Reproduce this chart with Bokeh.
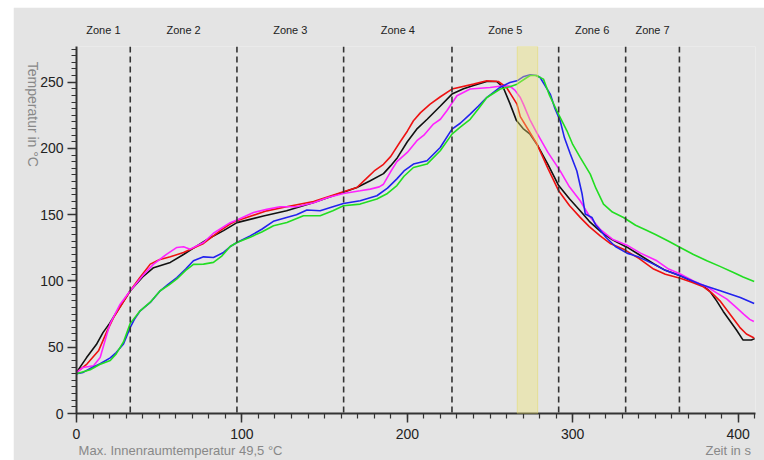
import math
from bokeh.plotting import figure
from bokeh.models import (Range1d, Span, BoxAnnotation, LinearAxis, FixedTicker,
                          SingleIntervalTicker, Spacer)
from bokeh.layouts import row, column
from bokeh.embed import file_html
from bokeh.resources import INLINE

# ---------------- data ----------------
black_x = [0, 6, 12, 16, 20, 26, 32.5, 40, 46.6, 56.7, 64.7, 72.8, 80, 88.9, 97, 113, 127, 143, 161.4, 169.5, 177.6, 185.6, 190, 194, 200, 206, 212, 220, 227, 234, 240, 248, 254, 258, 262, 266, 270, 274, 278.4, 285, 291.5, 298, 304.5, 310, 316.6, 324, 332.8, 340, 348.9, 356, 365, 372, 379, 383, 387, 391, 395, 399, 403, 408, 410]
black_y = [31, 42, 52, 61, 68, 80, 92.6, 103, 110, 114, 120, 126.5, 132, 138, 144, 149, 153, 159, 167, 170.5, 175.6, 181, 187, 193, 205, 215, 222, 232, 241, 245, 247.5, 250.5, 250.5, 246, 234, 221, 215, 211, 203, 188, 172, 162, 153, 145, 137.5, 131, 125.5, 120, 113, 108, 104, 100, 96.4, 92, 85, 77, 70, 63, 55.4, 55.4, 56.5]

red_x = [0, 6.3, 13.3, 18.4, 22.4, 32.5, 38, 44.6, 50, 56.7, 64.7, 76.8, 86.9, 92.9, 97, 115, 127, 143.3, 161.4, 169.5, 175, 180, 185.6, 190, 195.7, 200, 203.7, 208, 213.8, 220, 227, 240, 248, 255, 260, 263, 266.3, 268.3, 272.3, 278.4, 285, 291.5, 298, 304.5, 310, 316.6, 323, 330.7, 340, 348.9, 356, 365, 372, 379, 384, 389, 395, 401, 405, 409.7]
red_y = [31, 37.3, 47.3, 62, 72.4, 92.6, 102, 112.7, 116, 118.2, 121.5, 128.3, 138, 143, 145.5, 152.9, 156, 160, 167.3, 170.5, 177, 183, 188, 194, 205, 213, 220.9, 227, 233.4, 239, 244.8, 248.5, 251, 250.5, 246, 240, 233.4, 224, 215.8, 203.3, 185, 168, 157, 148, 141, 134, 128, 124, 117, 109, 105, 102, 99, 95.6, 91, 85, 75, 65, 60, 57]

magenta_x = [0, 4, 10.3, 14.3, 18.4, 20.4, 26.4, 32.5, 40, 46.6, 54.6, 60.7, 64.7, 68.7, 76.8, 82.8, 92.9, 97, 107, 115, 123, 133, 143.3, 152, 161.4, 171.5, 177.6, 183, 185.6, 189.7, 193.7, 200, 205.8, 210, 215.8, 220, 223.9, 230, 238, 250, 258, 262, 265, 268.3, 270.3, 274, 278.4, 285, 292.4, 298, 304.5, 310, 316.6, 324, 332.8, 341, 350.9, 358, 365, 373, 381.1, 387, 393.2, 398, 403.3, 407, 409.5]
magenta_y = [31, 34.7, 36, 42.3, 60, 68, 82.5, 92.6, 104, 112.7, 120.3, 125.3, 125.8, 124, 129, 136, 144, 146, 151.7, 154, 156, 156, 159, 163, 166, 168, 169.3, 171, 173, 182, 190, 197, 205.8, 210, 218.4, 222, 228.4, 239.7, 244.8, 246, 247.3, 247, 244, 238.4, 233, 222, 211.5, 197, 183.1, 171, 160.5, 149, 139, 131.5, 127, 121, 115.2, 109, 105.2, 100, 95.6, 91, 86.3, 81, 75, 71, 69.4]

blue_x = [0, 4, 8.3, 14.3, 20.4, 24, 28.4, 32.5, 35, 38.5, 44.6, 50.6, 55, 60.7, 66, 70.7, 76.8, 82.8, 88.9, 93, 97, 105, 112, 119, 127, 133, 139.3, 147.3, 155, 161.4, 171.5, 181.6, 188, 193.7, 198, 203.7, 211.9, 219.9, 227, 232, 238, 243, 248, 256, 262, 266.3, 270, 274.3, 278, 280.3, 283, 286.4, 289, 292.4, 295, 298.5, 302.5, 305.6, 307.6, 311.6, 314, 316.6, 320, 325.8, 332.8, 340, 348.9, 356, 365, 377.1, 389.2, 401.3, 409.7]
blue_y = [30, 31, 34, 37.5, 42, 46, 52.4, 65, 71, 77.5, 83.8, 92.6, 97, 102.6, 109, 115.2, 118.2, 117.7, 121.5, 126, 129, 134, 139, 145, 147.9, 150, 153.5, 153, 156, 158.5, 160.5, 164.3, 170, 177, 183, 188.2, 190.7, 200.7, 214.6, 219, 225.9, 232, 238.4, 246, 249.8, 251, 254, 255.6, 255, 253.5, 248, 241, 231, 221, 208, 196, 183, 166, 150.5, 147.9, 142, 138.5, 133, 126, 121, 118, 112.7, 108, 103.9, 97.6, 92.6, 87.5, 83]

green_x = [0, 8.3, 14, 20.4, 24, 28.4, 32.5, 38.5, 44.6, 50.6, 56, 60.7, 66, 70.7, 76.8, 82.8, 88, 92.9, 97, 105, 112, 119.1, 127.2, 137.2, 147.3, 155, 161.4, 171.5, 181.6, 188, 193.7, 198, 203.7, 211.9, 219.9, 227, 232, 238, 243, 248.1, 256.2, 262, 266.3, 272.3, 274.3, 278, 282.3, 286, 290.4, 296.5, 300, 304.5, 310.6, 314, 318.6, 324, 330.7, 338, 344.9, 350, 358, 365, 373, 381.1, 389, 397.2, 403, 409.7]
green_y = [30, 33, 37, 40, 45, 54, 68, 77.5, 84, 92.6, 97, 101.5, 108, 112.5, 112.7, 114, 119, 126, 129, 133, 137, 141.6, 144.1, 149.2, 149.2, 153, 156.7, 158, 161.8, 166, 172, 179, 185.6, 188.2, 198.2, 210.8, 216, 222, 230, 238.4, 244.8, 246.5, 248.5, 253.5, 255, 255, 252.3, 240, 228.4, 213.3, 203, 193.2, 180.6, 170, 158, 152, 147.9, 142, 138, 135, 130, 125.3, 120, 115.2, 111, 106.4, 103, 99.6]

zone_bounds = [32.5, 97, 161.5, 227, 291.5, 332, 364.5]
zone_names = ["Zone 1", "Zone 2", "Zone 3", "Zone 4", "Zone 5", "Zone 6", "Zone 7"]
band_start, band_end = 266.5, 278.8

x_max, y_max = 410.5, 276.9

y_title = "Temperatur in °C"
y_title_end = 186.0
x_notes = ["Max. Innenraumtemperatur  49,5 °C", "Zeit in s"]
x_notes_at = [64.0, 394.0]

series = [
    (black_x, black_y, "#111111"),
    (red_x, red_y, "#ee1111"),
    (magenta_x, magenta_y, "#ff22ff"),
    (blue_x, blue_y, "#2222ee"),
    (green_x, green_y, "#22dd22"),
]

GREY = "#e4e4e4"
LEFT = 13
p = figure(width=764 - LEFT, height=453, output_backend="svg", toolbar_location=None,
           x_range=Range1d(0, x_max), y_range=Range1d(0, y_max),
           min_border_left=53, min_border_right=9, min_border_top=39, min_border_bottom=47,
           background_fill_color=GREY, border_fill_color=GREY)
p.outline_line_color = None
p.xgrid.visible = False
p.ygrid.visible = False

p.xaxis.ticker = SingleIntervalTicker(interval=100, num_minor_ticks=10)
p.yaxis.ticker = SingleIntervalTicker(interval=50, num_minor_ticks=10)
for ax in (p.xaxis[0], p.yaxis[0]):
    ax.axis_line_color = "#333333"
    ax.axis_line_width = 2
    ax.major_tick_line_color = "#333333"
    ax.major_tick_line_width = 1.5
    ax.minor_tick_line_color = "#333333"
    ax.minor_tick_line_width = 1.2
    ax.major_tick_out = 9
    ax.major_tick_in = 0
    ax.minor_tick_out = 5
    ax.minor_tick_in = 0
    ax.major_label_text_font = "Liberation Sans"
    ax.major_label_text_font_size = "14px"
    ax.major_label_text_color = "#222222"
p.xaxis.major_label_standoff = 6
p.yaxis.major_label_standoff = 4

for xs, ys, c in series:
    p.line(xs, ys, line_color=c, line_width=1.6)

for b in zone_bounds:
    p.add_layout(Span(location=b, dimension="height", line_color="#333333",
                      line_width=1.6, line_dash="6 4"))

p.add_layout(BoxAnnotation(left=band_start, right=band_end, fill_color="#f0e66e",
                           fill_alpha=0.38, line_color="#e6dc60", line_alpha=0.5, line_width=1))


def text_axis(ticks, texts, font_size, color, standoff, font="Liberation Sans"):
    a = LinearAxis(ticker=FixedTicker(ticks=ticks, minor_ticks=[]),
                   major_label_overrides={t: s for t, s in zip(ticks, texts)})
    a.axis_line_color = None
    a.major_tick_line_color = None
    a.minor_tick_line_color = None
    a.major_tick_out = 0
    a.major_tick_in = 0
    a.major_label_standoff = standoff
    a.major_label_text_font = font
    a.major_label_text_font_size = font_size
    a.major_label_text_color = color
    return a


# zone names above the frame
edges = [0] + zone_bounds
zone_mid = [(edges[i] + edges[i + 1]) / 2 for i in range(len(zone_names))]
p.add_layout(text_axis(zone_mid, zone_names, "11px", "#222222", 11), "above")

# notes under the x axis
p.add_layout(text_axis(x_notes_at, x_notes, "13px", "#888888", 1), "below")

# rotated y title (reads top to bottom)
yt = text_axis([y_title_end], [y_title], "14px", "#888888", 5)
yt.major_label_orientation = -math.pi / 2
p.add_layout(yt, "left")

layout = column(Spacer(width=764, height=7),
                row(Spacer(width=LEFT, height=453), p))
open("out.html", "w").write(file_html(layout, INLINE))
